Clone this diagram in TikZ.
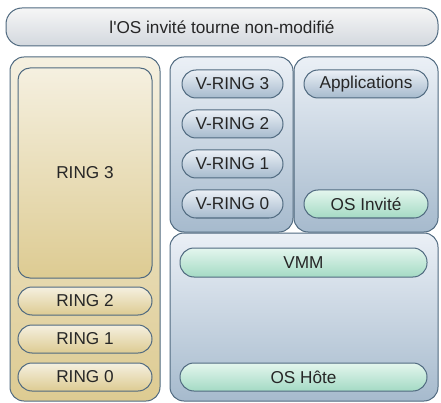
\documentclass[tikz,border=0pt]{standalone}
\usepackage{fontspec}
\setmainfont{Liberation Sans}
\definecolor{edge}{HTML}{506A80}
\definecolor{grayTop}{HTML}{F6F6F6}
\definecolor{grayBot}{HTML}{D3D8DE}
\definecolor{tanTop}{HTML}{F5F0E0}
\definecolor{tanBot}{HTML}{DDCB92}
\definecolor{blueTop}{HTML}{EBF0F6}
\definecolor{blueBot}{HTML}{A6BACD}
\definecolor{greenTop}{HTML}{E4F6EE}
\definecolor{greenBot}{HTML}{A4DAC4}
\begin{document}
\begin{tikzpicture}[x=1pt, y=-1pt, thick, font=\fontsize{17.2}{19}\selectfont, text=black!85,
    box/.style={draw=edge, line width=1pt, rounded corners=14pt, inner sep=0pt},
    gray box/.style={box, top color=grayTop, bottom color=grayBot},
    tan box/.style={box, top color=tanTop, bottom color=tanBot},
    blue box/.style={box, top color=blueTop, bottom color=blueBot},
    green box/.style={box, top color=greenTop, bottom color=greenBot},
    pill/.style={minimum height=28pt}]
    \useasboundingbox (0,0) rectangle (441,403);
    % top
    \node[gray box, minimum width=432pt, minimum height=38pt, rounded corners=16pt] (top) at (222,27) {l\textquotesingle OS invité tourne non-modifié};
    % left column
    \node[tan box, minimum width=150pt, minimum height=344pt] (left) at (85,229) {};
    \node[tan box, minimum width=134pt, minimum height=210pt, rounded corners=12pt] (r3) at (85,173) {RING 3};
    \node[tan box, pill, minimum width=134pt] (r2) at (85,301) {RING 2};
    \node[tan box, pill, minimum width=134pt] (r1) at (85,339) {RING 1};
    \node[tan box, pill, minimum width=134pt] (r0) at (85,377) {RING 0};
    % middle column
    \node[blue box, minimum width=123pt, minimum height=175pt] (mid) at (231.5,144.5) {};
    \node[blue box, pill, minimum width=101pt] (v3) at (232.5,84) {V-RING 3};
    \node[blue box, pill, minimum width=101pt] (v2) at (232.5,124) {V-RING 2};
    \node[blue box, pill, minimum width=101pt] (v1) at (232.5,164) {V-RING 1};
    \node[blue box, pill, minimum width=101pt] (v0) at (232.5,204) {V-RING 0};
    % right column
    \node[blue box, minimum width=144pt, minimum height=175pt] (guest) at (366,144.5) {};
    \node[blue box, pill, minimum width=124pt] (apps) at (366,84) {Applications};
    \node[green box, pill, minimum width=124pt] (osinv) at (366,204) {OS Invité};
    % host
    \node[blue box, minimum width=268pt, minimum height=168pt] (host) at (304,317) {};
    \node[green box, pill, minimum width=247pt, minimum height=29pt] (vmm) at (303.5,262.5) {VMM};
    \node[green box, pill, minimum width=247pt] (oshote) at (303.5,377) {OS Hôte};
\end{tikzpicture}
\end{document}
